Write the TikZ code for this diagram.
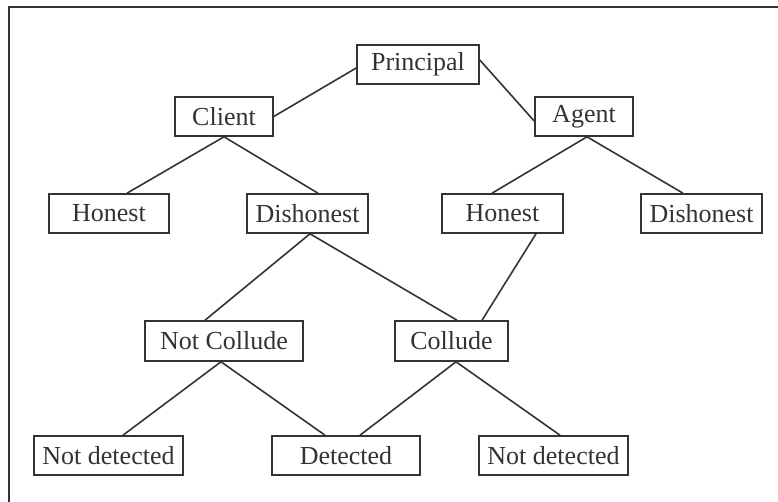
\documentclass[tikz,border=0pt]{standalone}
\usepackage{fontspec}
\setmainfont{Liberation Serif}
\usetikzlibrary{calc}
\definecolor{ink}{HTML}{333333}
\tikzset{
  box/.style={draw=ink, line width=1.6pt, inner sep=0pt, text=ink,
    font=\fontsize{26}{26}\selectfont, anchor=center},
  link/.style={draw=ink, line width=1.6pt},
}
\begin{document}
\begin{tikzpicture}[x=1pt,y=-1pt]
\useasboundingbox (0,0) rectangle (778,502);
\draw[ink, line width=2pt] (9,502) -- (9,7) -- (778,7);
% level 0
\node[box, minimum width=122pt, minimum height=39pt] (p) at (418,64.5) {Principal};
% level 1
\node[box, minimum width=98pt, minimum height=39pt] (c) at (224,116.5) {Client};
\node[box, minimum width=98pt, minimum height=39pt] (a) at (584,116.5) {Agent};
% level 2
\node[box, minimum width=120pt, minimum height=39pt] (hl) at (109,213.5) {Honest};
\node[box, minimum width=121pt, minimum height=39pt] (dl) at (307.5,213.5) {Dishonest};
\node[box, minimum width=121pt, minimum height=39pt] (hr) at (502.5,213.5) {Honest};
\node[box, minimum width=121pt, minimum height=39pt] (dr) at (701.5,213.5) {Dishonest};
% level 3
\node[box, minimum width=158pt, minimum height=40pt] (nc) at (224,341) {Not Collude};
\node[box, minimum width=113pt, minimum height=40pt] (co) at (451.5,341) {Collude};
% level 4
\node[box, minimum width=149pt, minimum height=39pt] (ndl) at (108.5,455.5) {Not detected};
\node[box, minimum width=148pt, minimum height=39pt] (de) at (346,455.5) {Detected};
\node[box, minimum width=149pt, minimum height=39pt] (ndr) at (553.5,455.5) {Not detected};
% connectors
\draw[link] ([yshift=-3.5pt]p.west) -- (c.east);
\draw[link] ([yshift=4.5pt]p.east) -- ([yshift=-4.5pt]a.west);
\draw[link] (c.south) -- ([xshift=18pt]hl.north);
\draw[link] (c.south) -- ([xshift=10.5pt]dl.north);
\draw[link] ([xshift=3pt]a.south) -- ([xshift=-10.5pt]hr.north);
\draw[link] ([xshift=3pt]a.south) -- ([xshift=-18.5pt]dr.north);
\draw[link] ([xshift=2.5pt]dl.south) -- ([xshift=-19pt]nc.north);
\draw[link] ([xshift=2.5pt]dl.south) -- ([xshift=5.5pt]co.north);
\draw[link] ([xshift=33.5pt]hr.south) -- ([xshift=30.5pt]co.north);
\draw[link] ([xshift=-3pt]nc.south) -- ([xshift=14.5pt]ndl.north);
\draw[link] ([xshift=-3pt]nc.south) -- ([xshift=-21pt]de.north);
\draw[link] ([xshift=4.5pt]co.south) -- ([xshift=14pt]de.north);
\draw[link] ([xshift=4.5pt]co.south) -- ([xshift=6.5pt]ndr.north);
\end{tikzpicture}
\end{document}
